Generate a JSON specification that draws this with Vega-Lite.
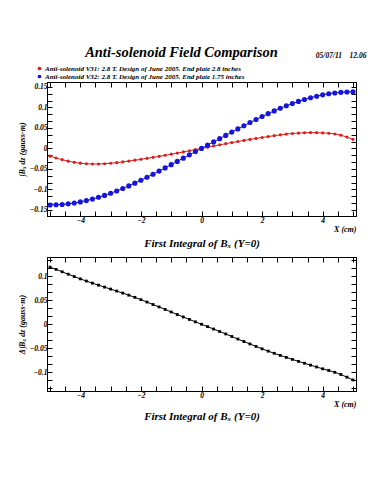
{
  "$schema": "https://vega.github.io/schema/vega-lite/v6.json",
  "background": "white",
  "padding": {"left": 17, "top": 45, "right": 5, "bottom": 5},
  "title": {"text": "Anti-solenoid Field Comparison", "font": "Liberation Serif", "fontSize": 14.5, "fontStyle": "italic", "fontWeight": "bold", "color": "black", "anchor": "middle", "dy": 13, "dx": -11},
  "spacing": 6,
  "datasets": {
    "top": [
      {"x": -5, "s": "V31", "v": -0.019}, {"x": -4.8, "s": "V31", "v": -0.0235}, {"x": -4.6, "s": "V31", "v": -0.0276}, {"x": -4.4, "s": "V31", "v": -0.0311}, {"x": -4.2, "s": "V31", "v": -0.034}, {"x": -4, "s": "V31", "v": -0.0361}, {"x": -3.8, "s": "V31", "v": -0.0375}, {"x": -3.6, "s": "V31", "v": -0.0381}, {"x": -3.4, "s": "V31", "v": -0.038}, {"x": -3.2, "s": "V31", "v": -0.0374}, {"x": -3, "s": "V31", "v": -0.0363}, {"x": -2.8, "s": "V31", "v": -0.0348}, {"x": -2.6, "s": "V31", "v": -0.033}, {"x": -2.4, "s": "V31", "v": -0.031}, {"x": -2.2, "s": "V31", "v": -0.0288}, {"x": -2, "s": "V31", "v": -0.0266}, {"x": -1.8, "s": "V31", "v": -0.0243}, {"x": -1.6, "s": "V31", "v": -0.0219}, {"x": -1.4, "s": "V31", "v": -0.0194}, {"x": -1.2, "s": "V31", "v": -0.0168}, {"x": -1, "s": "V31", "v": -0.0142}, {"x": -0.8, "s": "V31", "v": -0.0115}, {"x": -0.6, "s": "V31", "v": -0.0087}, {"x": -0.4, "s": "V31", "v": -0.0058}, {"x": -0.2, "s": "V31", "v": -0.0029}, {"x": 0, "s": "V31", "v": 0.0}, {"x": 0.2, "s": "V31", "v": 0.0029}, {"x": 0.4, "s": "V31", "v": 0.0058}, {"x": 0.6, "s": "V31", "v": 0.0087}, {"x": 0.8, "s": "V31", "v": 0.0115}, {"x": 1, "s": "V31", "v": 0.0142}, {"x": 1.2, "s": "V31", "v": 0.0168}, {"x": 1.4, "s": "V31", "v": 0.0194}, {"x": 1.6, "s": "V31", "v": 0.0219}, {"x": 1.8, "s": "V31", "v": 0.0243}, {"x": 2, "s": "V31", "v": 0.0266}, {"x": 2.2, "s": "V31", "v": 0.0288}, {"x": 2.4, "s": "V31", "v": 0.031}, {"x": 2.6, "s": "V31", "v": 0.033}, {"x": 2.8, "s": "V31", "v": 0.0348}, {"x": 3, "s": "V31", "v": 0.0363}, {"x": 3.2, "s": "V31", "v": 0.0374}, {"x": 3.4, "s": "V31", "v": 0.0382}, {"x": 3.6, "s": "V31", "v": 0.0385}, {"x": 3.8, "s": "V31", "v": 0.0384}, {"x": 4, "s": "V31", "v": 0.0378}, {"x": 4.2, "s": "V31", "v": 0.037}, {"x": 4.4, "s": "V31", "v": 0.0352}, {"x": 4.6, "s": "V31", "v": 0.0322}, {"x": 4.8, "s": "V31", "v": 0.0275}, {"x": 5, "s": "V31", "v": 0.022},
      {"x": -5, "s": "V32", "v": -0.138}, {"x": -4.8, "s": "V32", "v": -0.1377}, {"x": -4.6, "s": "V32", "v": -0.1368}, {"x": -4.4, "s": "V32", "v": -0.1353}, {"x": -4.2, "s": "V32", "v": -0.1333}, {"x": -4, "s": "V32", "v": -0.1306}, {"x": -3.8, "s": "V32", "v": -0.1274}, {"x": -3.6, "s": "V32", "v": -0.1237}, {"x": -3.4, "s": "V32", "v": -0.1194}, {"x": -3.2, "s": "V32", "v": -0.1147}, {"x": -3, "s": "V32", "v": -0.1095}, {"x": -2.8, "s": "V32", "v": -0.1039}, {"x": -2.6, "s": "V32", "v": -0.0979}, {"x": -2.4, "s": "V32", "v": -0.0915}, {"x": -2.2, "s": "V32", "v": -0.0848}, {"x": -2, "s": "V32", "v": -0.0778}, {"x": -1.8, "s": "V32", "v": -0.0705}, {"x": -1.6, "s": "V32", "v": -0.063}, {"x": -1.4, "s": "V32", "v": -0.0554}, {"x": -1.2, "s": "V32", "v": -0.0476}, {"x": -1, "s": "V32", "v": -0.0397}, {"x": -0.8, "s": "V32", "v": -0.0317}, {"x": -0.6, "s": "V32", "v": -0.0238}, {"x": -0.4, "s": "V32", "v": -0.0158}, {"x": -0.2, "s": "V32", "v": -0.0079}, {"x": 0, "s": "V32", "v": 0.0}, {"x": 0.2, "s": "V32", "v": 0.0079}, {"x": 0.4, "s": "V32", "v": 0.0158}, {"x": 0.6, "s": "V32", "v": 0.0238}, {"x": 0.8, "s": "V32", "v": 0.0317}, {"x": 1, "s": "V32", "v": 0.0397}, {"x": 1.2, "s": "V32", "v": 0.0476}, {"x": 1.4, "s": "V32", "v": 0.0554}, {"x": 1.6, "s": "V32", "v": 0.063}, {"x": 1.8, "s": "V32", "v": 0.0705}, {"x": 2, "s": "V32", "v": 0.0778}, {"x": 2.2, "s": "V32", "v": 0.0848}, {"x": 2.4, "s": "V32", "v": 0.0915}, {"x": 2.6, "s": "V32", "v": 0.0979}, {"x": 2.8, "s": "V32", "v": 0.1039}, {"x": 3, "s": "V32", "v": 0.1095}, {"x": 3.2, "s": "V32", "v": 0.1147}, {"x": 3.4, "s": "V32", "v": 0.1194}, {"x": 3.6, "s": "V32", "v": 0.1237}, {"x": 3.8, "s": "V32", "v": 0.1274}, {"x": 4, "s": "V32", "v": 0.1306}, {"x": 4.2, "s": "V32", "v": 0.1333}, {"x": 4.4, "s": "V32", "v": 0.1353}, {"x": 4.6, "s": "V32", "v": 0.1368}, {"x": 4.8, "s": "V32", "v": 0.1377}, {"x": 5, "s": "V32", "v": 0.138}
    ],
    "bottom": [
      {"x": -5, "d": 0.119}, {"x": -4.8, "d": 0.1142}, {"x": -4.6, "d": 0.1092}, {"x": -4.4, "d": 0.1042}, {"x": -4.2, "d": 0.0993}, {"x": -4, "d": 0.0945}, {"x": -3.8, "d": 0.0899}, {"x": -3.6, "d": 0.0856}, {"x": -3.4, "d": 0.0814}, {"x": -3.2, "d": 0.0773}, {"x": -3, "d": 0.0732}, {"x": -2.8, "d": 0.0691}, {"x": -2.6, "d": 0.0649}, {"x": -2.4, "d": 0.0605}, {"x": -2.2, "d": 0.056}, {"x": -2, "d": 0.0512}, {"x": -1.8, "d": 0.0462}, {"x": -1.6, "d": 0.0411}, {"x": -1.4, "d": 0.036}, {"x": -1.2, "d": 0.0308}, {"x": -1, "d": 0.0255}, {"x": -0.8, "d": 0.0202}, {"x": -0.6, "d": 0.0151}, {"x": -0.4, "d": 0.01}, {"x": -0.2, "d": 0.005}, {"x": 0, "d": 0.0}, {"x": 0.2, "d": -0.005}, {"x": 0.4, "d": -0.01}, {"x": 0.6, "d": -0.0151}, {"x": 0.8, "d": -0.0202}, {"x": 1, "d": -0.0255}, {"x": 1.2, "d": -0.0308}, {"x": 1.4, "d": -0.036}, {"x": 1.6, "d": -0.0411}, {"x": 1.8, "d": -0.0462}, {"x": 2, "d": -0.0512}, {"x": 2.2, "d": -0.056}, {"x": 2.4, "d": -0.0605}, {"x": 2.6, "d": -0.0649}, {"x": 2.8, "d": -0.0691}, {"x": 3, "d": -0.0732}, {"x": 3.2, "d": -0.0773}, {"x": 3.4, "d": -0.0812}, {"x": 3.6, "d": -0.0852}, {"x": 3.8, "d": -0.089}, {"x": 4, "d": -0.0928}, {"x": 4.2, "d": -0.0963}, {"x": 4.4, "d": -0.1001}, {"x": 4.6, "d": -0.1046}, {"x": 4.8, "d": -0.1102}, {"x": 5, "d": -0.116}
    ]
  },
  "vconcat": [
    {
      "width": 309,
      "height": 134,
      "title": {"text": "05/07/11\u00a0\u00a0\u00a0\u00a012.06", "anchor": "end", "fontSize": 7.5, "offset": 22, "dx": 10},
      "data": {"name": "top"},
      "layer": [
        {
          "transform": [{"filter": "datum.s == 'V31'"}],
          "mark": {"type": "line", "strokeWidth": 1, "color": "#dd1c1c", "clip": true},
          "encoding": {
            "x": {"field": "x", "type": "quantitative", "scale": {"domain": [-5.1, 5.1], "nice": false, "zero": false}, "axis": null},
            "y": {"field": "v", "type": "quantitative", "scale": {"domain": [-0.165, 0.162], "nice": false, "zero": false}, "axis": null}
          }
        },
        {
          "transform": [{"filter": "datum.s == 'V32'"}],
          "mark": {"type": "line", "strokeWidth": 1, "color": "#1414dc", "clip": true},
          "encoding": {
            "x": {"field": "x", "type": "quantitative", "axis": null},
            "y": {"field": "v", "type": "quantitative", "axis": null}
          }
        },
        {
          "mark": {"type": "point", "filled": true, "opacity": 1, "shape": "circle", "clip": true},
          "encoding": {
            "x": {"field": "x", "type": "quantitative", "axis": {"orient": "bottom", "title": "X (cm)", "titleAnchor": "end", "titlePadding": 2, "values": [-5, -4.5, -4, -3.5, -3, -2.5, -2, -1.5, -1, -0.5, 0, 0.5, 1, 1.5, 2, 2.5, 3, 3.5, 4, 4.5, 5], "labelExpr": "abs(datum.value % 2) < 0.001 ? format(datum.value, 'd') : ''"}},
            "y": {"field": "v", "type": "quantitative", "axis": {"orient": "left", "title": "∫Bₓ dz (gauss-m)", "titlePadding": 3, "values": [-0.15, -0.13333, -0.11667, -0.1, -0.08333, -0.06667, -0.05, -0.03333, -0.01667, 0, 0.01667, 0.03333, 0.05, 0.06667, 0.08333, 0.1, 0.11667, 0.13333, 0.15], "labelExpr": "abs(datum.value * 20 - round(datum.value * 20)) < 0.01 ? format(datum.value, '~g') : ''"}},
            "color": {"field": "s", "type": "nominal", "scale": {"domain": ["V31", "V32"], "range": ["#dd1c1c", "#1414dc"]}, "legend": {"orient": "none", "legendX": -11, "legendY": -17, "direction": "vertical", "title": null, "labelExpr": "datum.label == 'V31' ? 'Anti-solenoid V31: 2.8 T. Design of June 2005. End plate 2.8 inches' : 'Anti-solenoid V32: 2.8 T. Design of June 2005. End plate 1.75 inches'"}},
            "size": {"condition": {"test": "datum.s == 'V32'", "value": 26}, "value": 10}
          }
        },
        {
          "mark": {"type": "point", "opacity": 0},
          "encoding": {
            "x": {"field": "x", "type": "quantitative", "axis": {"orient": "top", "labels": false, "title": null, "values": [-5, -4.5, -4, -3.5, -3, -2.5, -2, -1.5, -1, -0.5, 0, 0.5, 1, 1.5, 2, 2.5, 3, 3.5, 4, 4.5, 5]}},
            "y": {"field": "v", "type": "quantitative", "axis": {"orient": "right", "labels": false, "title": null, "values": [-0.15, -0.13333, -0.11667, -0.1, -0.08333, -0.06667, -0.05, -0.03333, -0.01667, 0, 0.01667, 0.03333, 0.05, 0.06667, 0.08333, 0.1, 0.11667, 0.13333, 0.15]}}
          }
        },
        {
          "mark": {"type": "point", "opacity": 0},
          "encoding": {
            "x": {"field": "x", "type": "quantitative", "axis": {"orient": "bottom", "labels": false, "ticks": false, "domain": false, "title": "First Integral of Bₓ (Y=0)", "titleFontSize": 11, "titlePadding": 21}},
            "y": {"field": "v", "type": "quantitative", "axis": null}
          }
        }
      ],
      "resolve": {"axis": {"x": "independent", "y": "independent"}}
    },
    {
      "width": 309,
      "height": 134,
      "data": {"name": "bottom"},
      "layer": [
        {
          "mark": {"type": "line", "strokeWidth": 1, "color": "black", "clip": true},
          "encoding": {
            "x": {"field": "x", "type": "quantitative", "scale": {"domain": [-5.1, 5.1], "nice": false, "zero": false}, "axis": null},
            "y": {"field": "d", "type": "quantitative", "scale": {"domain": [-0.139, 0.14], "nice": false, "zero": false}, "axis": null}
          }
        },
        {
          "mark": {"type": "square", "filled": true, "color": "black", "size": 8, "opacity": 1, "clip": true},
          "encoding": {
            "x": {"field": "x", "type": "quantitative", "axis": {"orient": "bottom", "title": "X (cm)", "titleAnchor": "end", "titlePadding": 2, "values": [-5, -4.5, -4, -3.5, -3, -2.5, -2, -1.5, -1, -0.5, 0, 0.5, 1, 1.5, 2, 2.5, 3, 3.5, 4, 4.5, 5], "labelExpr": "abs(datum.value % 2) < 0.001 ? format(datum.value, 'd') : ''"}},
            "y": {"field": "d", "type": "quantitative", "axis": {"orient": "left", "title": "Δ∫Bₓ dz (gauss-m)", "titlePadding": 3, "values": [-0.13333, -0.11667, -0.1, -0.08333, -0.06667, -0.05, -0.03333, -0.01667, 0, 0.01667, 0.03333, 0.05, 0.06667, 0.08333, 0.1, 0.11667, 0.13333], "labelExpr": "abs(datum.value * 20 - round(datum.value * 20)) < 0.01 ? format(datum.value, '~g') : ''"}}
          }
        },
        {
          "mark": {"type": "point", "opacity": 0},
          "encoding": {
            "x": {"field": "x", "type": "quantitative", "axis": {"orient": "top", "labels": false, "title": null, "values": [-5, -4.5, -4, -3.5, -3, -2.5, -2, -1.5, -1, -0.5, 0, 0.5, 1, 1.5, 2, 2.5, 3, 3.5, 4, 4.5, 5]}},
            "y": {"field": "d", "type": "quantitative", "axis": {"orient": "right", "labels": false, "title": null, "values": [-0.13333, -0.11667, -0.1, -0.08333, -0.06667, -0.05, -0.03333, -0.01667, 0, 0.01667, 0.03333, 0.05, 0.06667, 0.08333, 0.1, 0.11667, 0.13333]}}
          }
        },
        {
          "mark": {"type": "point", "opacity": 0},
          "encoding": {
            "x": {"field": "x", "type": "quantitative", "axis": {"orient": "bottom", "labels": false, "ticks": false, "domain": false, "title": "First Integral of Bₓ (Y=0)", "titleFontSize": 11, "titlePadding": 19}},
            "y": {"field": "d", "type": "quantitative", "axis": null}
          }
        }
      ],
      "resolve": {"axis": {"x": "independent", "y": "independent"}}
    }
  ],
  "config": {
    "font": "Liberation Serif",
    "view": {"stroke": "black", "strokeWidth": 1},
    "axis": {
      "labelFont": "Liberation Serif", "labelFontStyle": "italic", "labelFontWeight": "bold", "labelFontSize": 7.5, "labelColor": "black", "labelPadding": 5, "labelFlush": false, "labelOverlap": false,
      "titleFont": "Liberation Serif", "titleFontStyle": "italic", "titleFontWeight": "bold", "titleFontSize": 8, "titleColor": "black",
      "domainColor": "black", "domainWidth": 1, "tickColor": "black", "tickWidth": 1, "tickSize": -5, "grid": false
    },
    "legend": {
      "labelFont": "Liberation Serif", "labelFontStyle": "italic", "labelFontWeight": "bold", "labelFontSize": 7, "labelColor": "black", "labelLimit": 0,
      "symbolType": "circle", "symbolSize": 14, "symbolStrokeWidth": 0, "rowPadding": 0, "padding": 0, "labelOffset": 2
    },
    "title": {"font": "Liberation Serif", "fontStyle": "italic", "fontWeight": "bold", "color": "black"}
  }
}
